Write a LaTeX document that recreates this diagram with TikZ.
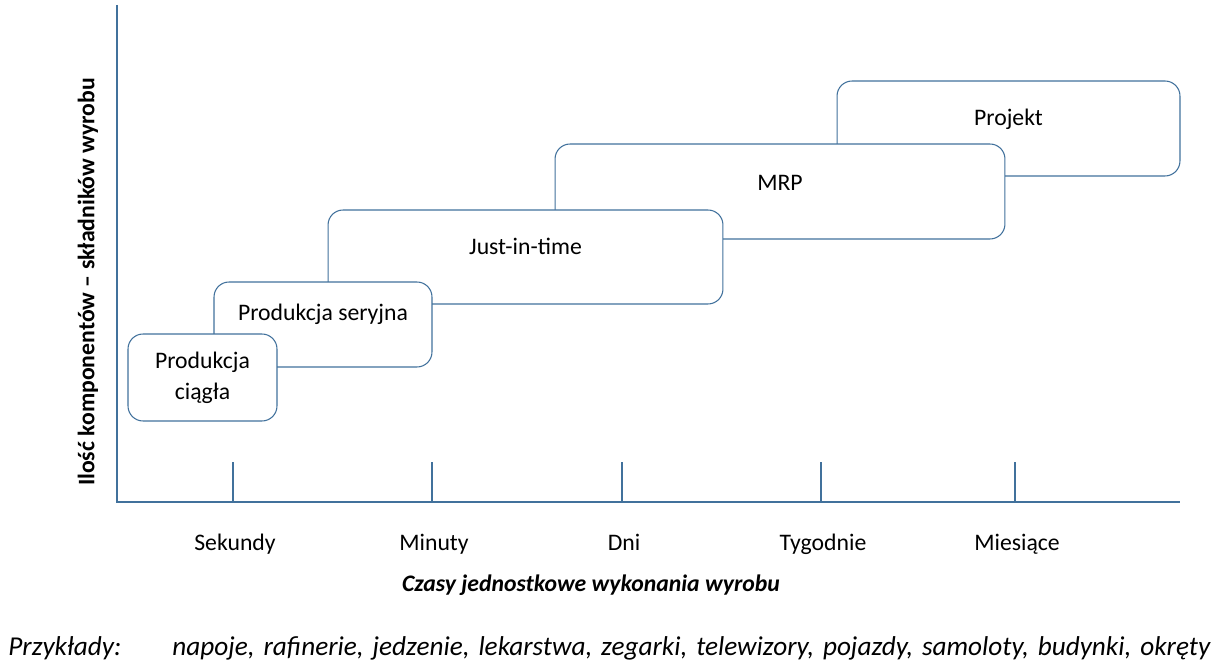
\documentclass[tikz,border=0pt]{standalone}
\usepackage{fontspec}
\setmainfont{Carlito}
\usetikzlibrary{positioning}
\definecolor{axisblue}{RGB}{65,113,156}
\newcommand{\labelsize}{\fontsize{13.5}{17.6}\selectfont}

\begin{document}
\begin{tikzpicture}[x=0.02cm, y=-0.02cm, font=\labelsize, stage/.style={rectangle, rounded corners=0.3cm, draw=axisblue, fill=white, line width=0.6pt, inner sep=0pt, align=center}, caption/.style={align=center, inner sep=0pt}, axis/.style={axisblue, line width=0.6pt}]
	\useasboundingbox (0,0) rectangle (1220,671);
	\coordinate (top) at (117,5);
	\coordinate (o) at (117,502);
	\coordinate (end) at (1180,502);
	\draw[axis] (top) -- (o) -- (end);
	\foreach \x/\txt in {233/Sekundy, 432/Minuty, 622/Dni, 821/Tygodnie, 1015/Miesiące} {
		\coordinate (tick\x) at (\x,502);
		\draw[axis] (tick\x) -- ++(0,-40);
		\node[caption, anchor=base] (lab\x) at (\x+2,551) {\txt};
	}
	\node[stage, minimum width=6.86cm, minimum height=1.9cm] (projekt) at (1008.5,128.5) {};
	\node[caption] (projekttxt) [above of=projekt, node distance=0.19cm] {Projekt};
	\node[stage, minimum width=9cm, minimum height=1.9cm] (mrp) at (780,191.5) {};
	\node[caption] (mrptxt) [above of=mrp, node distance=0.17cm] {MRP};
	\node[stage, minimum width=7.9cm, minimum height=1.88cm] (jit) at (525.5,257) {};
	\node[caption] (jittxt) [above of=jit, node distance=0.22cm] {Just-in-time};
	\node[stage, minimum width=4.36cm, minimum height=1.7cm] (seryjna) at (323,324.5) {};
	\node[caption] (seryjnatxt) [above of=seryjna, node distance=0.21cm] {Produkcja seryjna};
	\node[stage, minimum width=2.98cm, minimum height=1.74cm] (ciagla) at (202.5,377.5) {Produkcja\\ciągła};
	\node[caption, rotate=90, font=\labelsize\bfseries] (ytitle) at (88,282) {Ilość komponentów – składników wyrobu};
	\node[caption, font=\labelsize\bfseries\itshape] (xtitle) at (591,585) {Czasy jednostkowe wykonania wyrobu};
	\node[caption, anchor=base west, font=\fontsize{15.5}{19}\selectfont\itshape] (ex) at (8,655) {Przykłady:};
	\node[caption, anchor=base west, font=\fontsize{15.5}{19}\selectfont\itshape] (exlist) at (172,655) {\makebox[20.76cm][s]{napoje, rafinerie, jedzenie, lekarstwa, zegarki, telewizory, pojazdy, samoloty, budynki, okręty}};
\end{tikzpicture}
\end{document}
